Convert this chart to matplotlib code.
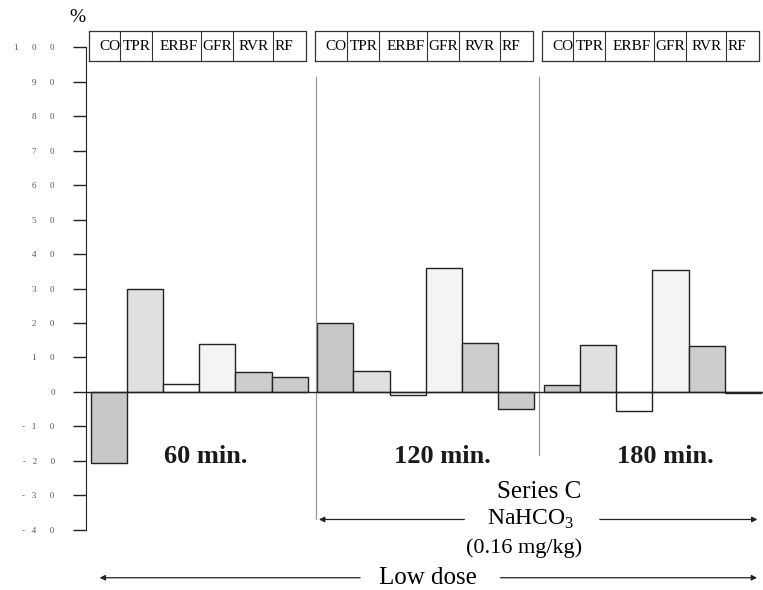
import numpy as np
import matplotlib
matplotlib.use('Agg')
from matplotlib import pyplot as plt

plt.rcParams['font.family'] = ['Liberation Serif', 'DejaVu Serif']
plt.rcParams['mathtext.fontset'] = 'custom'
plt.rcParams['mathtext.rm'] = 'Liberation Serif'

variables = ['CO', 'TPR', 'ERBF', 'GFR', 'RVR', 'RF']
times = ['60 min.', '120 min.', '180 min.']

# % change per variable, one value per time point
co = [-20.5, 20.0, 2.0]
tpr = [30.0, 6.0, 13.5]
erbf = [2.4, -1.0, -5.6]
gfr = [14.0, 36.0, 35.5]
rvr = [5.7, 14.2, 13.3]
rf = [4.3, -5.0, -0.4]

yticks = [100, 90, 80, 70, 60, 50, 40, 30, 20, 10, 0, -10, -20, -30, -40]

series = [co, tpr, erbf, gfr, rvr, rf]
fills = ['#c8c8c8', '#e0e0e0', '#ffffff', '#f4f4f4', '#cdcdcd', '#cbcbcb']

group_step = 6.26
cell_edges = [-0.06, 0.82, 1.70, 3.04, 3.93, 5.04, 5.95]
label_pos = [0.52, 1.28, 2.43, 3.49, 4.49, 5.34]
time_pos = [3.18, 3.47, 3.35]

fig = plt.figure(figsize=(7.63, 5.90), dpi=100)
ax = fig.add_axes([0.1127, 0.102, 0.887, 0.818])

for g in range(len(times)):
    x0 = g * group_step
    for i, vals in enumerate(series):
        ax.bar(x0 + i, vals[g], width=1.0, align='edge', color=fills[i],
               edgecolor='#222222', linewidth=1.0, zorder=2)
    # header box with variable names
    top, bot = 104.6, 96.0
    ax.plot([x0 + cell_edges[0], x0 + cell_edges[-1], x0 + cell_edges[-1],
             x0 + cell_edges[0], x0 + cell_edges[0]],
            [bot, bot, top, top, bot], color='#333333', lw=0.9, clip_on=False)
    for e in cell_edges[1:-1]:
        ax.plot([x0 + e, x0 + e], [bot, top], color='#333333', lw=0.8, clip_on=False)
    for name, p in zip(variables, label_pos):
        ax.text(x0 + p, (top + bot) / 2, name, ha='center', va='center',
                fontsize=11, clip_on=False)
    ax.text(x0 + time_pos[g], -18.7, times[g], ha='center', va='center',
            fontsize=19, fontweight='bold', color='#1a1a1a')

# zero line
ax.axhline(0, color='#222222', lw=1.0, zorder=3)

# separators between time points
ax.plot([group_step - 0.04] * 2, [91.5, -37.0], color='#999999', lw=0.9, clip_on=False)
ax.plot([2 * group_step - 0.13] * 2, [91.5, -18.4], color='#999999', lw=0.9, clip_on=False)

# NaHCO3 arrow
ax.text(12.38, -28.9, 'Series C', ha='center', va='center', fontsize=18)
ax.text(12.15, -37.0, r'NaHCO$_\mathrm{3}$', ha='center', va='center', fontsize=17)
ax.text(11.97, -45.2, '(0.16 mg/kg)', ha='center', va='center', fontsize=16)
arrow = dict(arrowstyle='-|>', color='#222222', lw=0.9, mutation_scale=8)
ax.annotate('', xy=(6.23, -37.0), xytext=(10.40, -37.0), arrowprops=arrow,
            annotation_clip=False)
ax.annotate('', xy=(18.50, -37.0), xytext=(13.99, -37.0), arrowprops=arrow,
            annotation_clip=False)

# Low dose arrow
ax.text(9.32, -53.9, 'Low dose', ha='center', va='center', fontsize=18)
ax.annotate('', xy=(0.17, -53.9), xytext=(7.52, -53.9), arrowprops=arrow,
            annotation_clip=False)
ax.annotate('', xy=(18.49, -53.9), xytext=(11.25, -53.9), arrowprops=arrow,
            annotation_clip=False)

ax.text(-0.38, 108.7, '%', ha='center', va='center', fontsize=14, clip_on=False)

ax.set_xlim(-0.13, 18.57)
ax.set_ylim(-40, 100)
ax.set_xticks([])
ax.set_yticks(yticks)
ax.set_yticklabels([('-   ' if t < 0 else '') + '      '.join(str(abs(t)))
                    for t in yticks], fontsize=6.5, color='#555555')
ax.tick_params(axis='y', length=9.5, width=1.0, pad=13, color='#222222')
for s in ['top', 'right', 'bottom']:
    ax.spines[s].set_visible(False)
ax.spines['left'].set_color('#222222')

fig.savefig('out.png', dpi=100)
